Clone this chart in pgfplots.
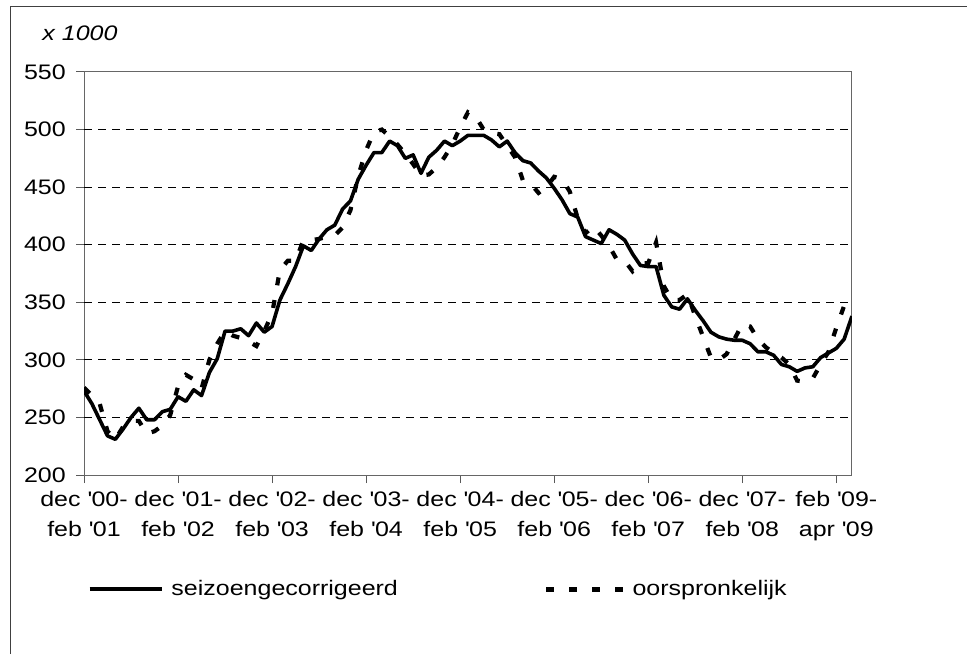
\documentclass[border=0pt]{standalone}
\usepackage{pgfplots}
\pgfplotsset{compat=1.18}
\usepackage{pgfplotstable}
\usepackage{fontspec}
\setmainfont{Liberation Sans}[FakeStretch=1.19]
\newcommand\q{\textquotesingle}
\pgfplotstableread{
i s d
0 273 276
1 262 269
2 248 262
3 234 238
4 231 231
5 240 242
6 250 247
7 258 247
8 248 236
9 248 238
10 255 243
11 257 252
12 268 277
13 264 287
14 274 283
15 269 275
16 289 300
17 301 314
18 325 325
19 325 321
20 327 319
21 321 316
22 332 312
23 324 325
24 329 340
25 352 378
26 366 386
27 381 386
28 399 404
29 395 404
30 405 405
31 413 407
32 417 408
33 431 415
34 438 430
35 457 460
36 469 482
37 480 498
38 480 500
39 490 494
40 486 487
41 475 479
42 478 470
43 462 460
44 476 461
45 482 467
46 490 476
47 486 487
48 490 502
49 495 515
50 495 511
51 495 500
52 491 497
53 485 496
54 490 486
55 480 476
56 473 456
57 471 453
58 464 445
59 458 450
60 449 459
61 439 457
62 427 446
63 424 423
64 407 410
65 404 416
66 401 408
67 413 399
68 409 387
69 404 386
70 392 377
71 382 384
72 381 384
73 381 402
74 356 364
75 346 352
76 344 352
77 353 357
78 343 338
79 334 320
80 324 302
81 320 300
82 318 305
83 317 318
84 317 331
85 314 329
86 307 318
87 307 311
88 304 306
89 296 302
90 294 296
91 290 282
92 293 281
93 294 284
94 302 296
95 306 307
96 310 328
97 318 347
98 338 356
}\data
\begin{document}
\fontsize{21}{30}\selectfont
\begin{tikzpicture}
\useasboundingbox (0,0) rectangle (967pt,654pt);
\draw[line width=1pt, black!75] (10pt,0pt) -- (10pt,647pt) -- (967pt,647pt);
\node[font=\itshape\fontsize{21}{24}\selectfont, inner sep=0pt] at (80pt,621pt) {x 1000};
\begin{axis}[
  at={(84pt,179pt)}, anchor=south west,
  scale only axis, width=768pt, height=403pt,
  xmin=0, xmax=98, ymin=200, ymax=550,
  xtick={0,12,...,96},
  xticklabels={{dec \q00-\\feb \q01},{dec \q01-\\feb \q02},{dec \q02-\\feb \q03},{dec \q03-\\feb \q04},{dec \q04-\\feb \q05},{dec \q05-\\feb \q06},{dec \q06-\\feb \q07},{dec \q07-\\feb \q08},{feb \q09-\\apr \q09}},
  ytick={200,250,...,550},
  xtick pos=left, ytick pos=left,
  tick align=outside, major tick length=8pt,
  axis line style={draw=black!60, line width=1pt},
  tick style={draw=black!65, line width=1pt},
  extra y ticks={250,300,...,500}, extra y tick labels={},
  extra y tick style={grid=major, major tick length=0pt},
  grid style={dash pattern=on 8pt off 6pt, line width=0.9pt, black},
  /pgf/number format/assume math mode=true,
  ticklabel style={font=\fontsize{21}{30}\selectfont},
  xticklabel style={align=center, inner sep=0pt, yshift=-8pt},
  yticklabel style={inner sep=0pt, xshift=-10pt},
  legend columns=2,
  legend style={draw=none, fill=none, inner sep=0pt, outer sep=0pt,
    at={(0.0052,-0.283)}, anchor=west,
    nodes={inner sep=0pt, font=\fontsize{21}{24}\selectfont},
    /tikz/every even column/.append style={column sep=146pt}},
]
\addplot[black, line width=3.6pt, line join=round,
  legend image code/.code={\draw[black, line width=3.4pt] (0pt,0pt) -- (72pt,0pt); \path (80pt,0pt);}]
  table[x=i, y=s] {\data};
\addlegendentry{seizoengecorrigeerd}
\addplot[black, line width=4.2pt, dash pattern=on 8pt off 15pt,
  legend image code/.code={\draw[black, line width=5pt, dash pattern=on 8pt off 15pt] (0pt,0pt) -- (77pt,0pt); \path (84pt,0pt);}]
  table[x=i, y=d] {\data};
\addlegendentry{oorspronkelijk}
\end{axis}
\end{tikzpicture}
\end{document}
